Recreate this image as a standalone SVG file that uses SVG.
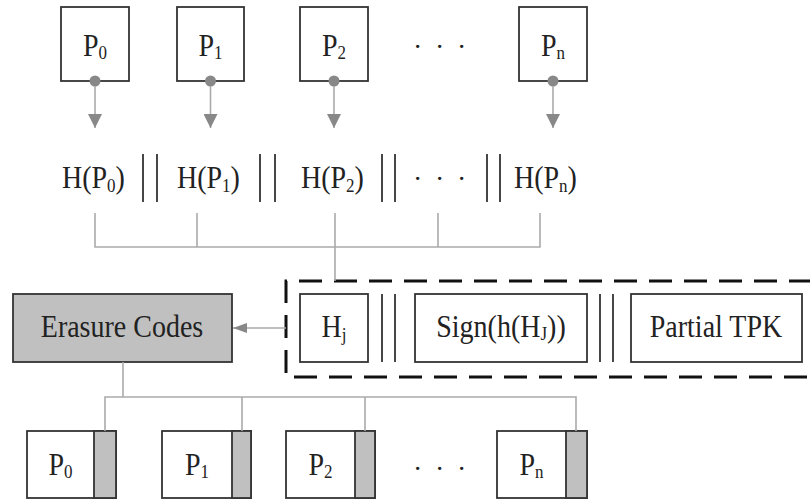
<svg xmlns="http://www.w3.org/2000/svg" width="810" height="500" viewBox="0 0 810 500">
<style>
  .box{fill:#fff;stroke:#333;stroke-width:1.8}
  .gray{fill:#c0c0c0;stroke:#333;stroke-width:1.8}
  .t{font-family:"Liberation Serif","Times New Roman",serif;font-size:28px;fill:#222}
  .sub{font-size:17px}
  .bar{stroke:#333;stroke-width:1.8}
  .con{stroke:#aaa;stroke-width:1.6;fill:none}
  .dash{stroke:#111;stroke-width:3;fill:none;stroke-dasharray:23 12}
</style>
<defs>
  <marker id="ah" markerUnits="userSpaceOnUse" markerWidth="14" markerHeight="14" viewBox="0 0 14 14" refX="14" refY="7" orient="auto">
    <path d="M0,0 L14,7 L0,14 z" fill="#888"/>
  </marker>
  <marker id="ahs" markerUnits="userSpaceOnUse" markerWidth="14" markerHeight="10" viewBox="0 0 14 10" refX="14" refY="5" orient="auto">
    <path d="M0,0 L14,5 L0,10 z" fill="#888"/>
  </marker>
</defs>

<g id="top-P0"><rect class="box" x="61" y="7" width="68" height="74"/><text class="t" transform="translate(95,56) scale(1,1.12)" text-anchor="middle">P<tspan class="sub" dy="3">0</tspan></text></g>
<g id="top-P1"><rect class="box" x="177" y="7" width="67" height="74"/><text class="t" transform="translate(210.5,56) scale(1,1.12)" text-anchor="middle">P<tspan class="sub" dy="3">1</tspan></text></g>
<g id="top-P2"><rect class="box" x="300" y="7" width="68" height="74"/><text class="t" transform="translate(334,56) scale(1,1.12)" text-anchor="middle">P<tspan class="sub" dy="3">2</tspan></text></g>
<g id="top-dots"><text class="t" x="413 435 457" y="56">···</text></g>
<g id="top-Pn"><rect class="box" x="519" y="7" width="68" height="74"/><text class="t" transform="translate(553,56) scale(1,1.12)" text-anchor="middle">P<tspan class="sub" dy="3">n</tspan></text></g>

<g id="hash-row">
  <text class="t" transform="translate(62,188) scale(1,1.12)">H(P<tspan class="sub" dy="4">0</tspan><tspan dy="-4">)</tspan></text>
  <text class="t" transform="translate(177,188) scale(1,1.12)">H(P<tspan class="sub" dy="4">1</tspan><tspan dy="-4">)</tspan></text>
  <text class="t" transform="translate(301,188) scale(1,1.12)">H(P<tspan class="sub" dy="4">2</tspan><tspan dy="-4">)</tspan></text>
  <text class="t" x="413 435 457" y="188">···</text>
  <text class="t" transform="translate(514,188) scale(1,1.12)">H(P<tspan class="sub" dy="4">n</tspan><tspan dy="-4">)</tspan></text>
  <path class="bar" d="M143,154V202M157,154V202M260,154V202M275,154V202M382,154V202M395,154V202M487,154V202M500,154V202"/>
</g>

<g id="erasure"><rect class="gray" x="13" y="294" width="219" height="68"/><text class="t" transform="translate(122,337) scale(1,1.12)" text-anchor="middle">Erasure Codes</text></g>

<g id="signed-block">
  <path class="dash" d="M812,281H286V377H812"/>
  <g id="Hj"><rect class="box" x="300" y="294" width="68" height="68"/><text class="t" transform="translate(334,337) scale(1,1.12)" text-anchor="middle">H<tspan class="sub" dy="4">j</tspan></text></g>
  <g id="sign"><rect class="box" x="415" y="294" width="172" height="68"/><text class="t" transform="translate(501,337) scale(1,1.12)" text-anchor="middle">Sign(h(H<tspan class="sub" dy="3">J</tspan><tspan dy="-3">))</tspan></text></g>
  <g id="tpk"><rect class="box" x="631" y="294" width="171" height="68"/><text class="t" transform="translate(716,337) scale(1,1.12)" text-anchor="middle">Partial TPK</text></g>
  <path class="bar" d="M382,294V362M395,294V362M600,294V362M613,294V362"/>
</g>

<g id="bot-P0"><rect class="box" x="27" y="431" width="89" height="67"/><rect class="gray" x="94" y="431" width="22" height="67"/><text class="t" transform="translate(60.5,475) scale(1,1.12)" text-anchor="middle">P<tspan class="sub" dy="3">0</tspan></text></g>
<g id="bot-P1"><rect class="box" x="162" y="431" width="89" height="67"/><rect class="gray" x="232" y="431" width="19" height="67"/><text class="t" transform="translate(197,475) scale(1,1.12)" text-anchor="middle">P<tspan class="sub" dy="3">1</tspan></text></g>
<g id="bot-P2"><rect class="box" x="286" y="431" width="89" height="67"/><rect class="gray" x="355" y="431" width="20" height="67"/><text class="t" transform="translate(320.5,475) scale(1,1.12)" text-anchor="middle">P<tspan class="sub" dy="3">2</tspan></text></g>
<g id="bot-dots"><text class="t" x="413 435 457" y="478">···</text></g>
<g id="bot-Pn"><rect class="box" x="497" y="431" width="90" height="67"/><rect class="gray" x="566" y="431" width="21" height="67"/><text class="t" transform="translate(531.5,475) scale(1,1.12)" text-anchor="middle">P<tspan class="sub" dy="3">n</tspan></text></g>

<g id="connectors">
  <g fill="#888">
    <circle cx="95" cy="81" r="5.5"/><circle cx="210.5" cy="81" r="5.5"/><circle cx="334" cy="81" r="5.5"/><circle cx="553" cy="81" r="5.5"/>
  </g>
  <path class="con" marker-end="url(#ah)" d="M95,86V128"/>
  <path class="con" marker-end="url(#ah)" d="M210.5,86V128"/>
  <path class="con" marker-end="url(#ah)" d="M334,86V128"/>
  <path class="con" marker-end="url(#ah)" d="M553,86V128"/>
  <path class="con" d="M95,213V247H540V213M197,213V247M335,213V281M438,213V247"/>
  <path class="con" marker-end="url(#ahs)" d="M286,328H233"/>
  <path class="con" d="M123,362V397M105,431V397H576V431M242,397V431M365,397V431"/>
</g>
</svg>
